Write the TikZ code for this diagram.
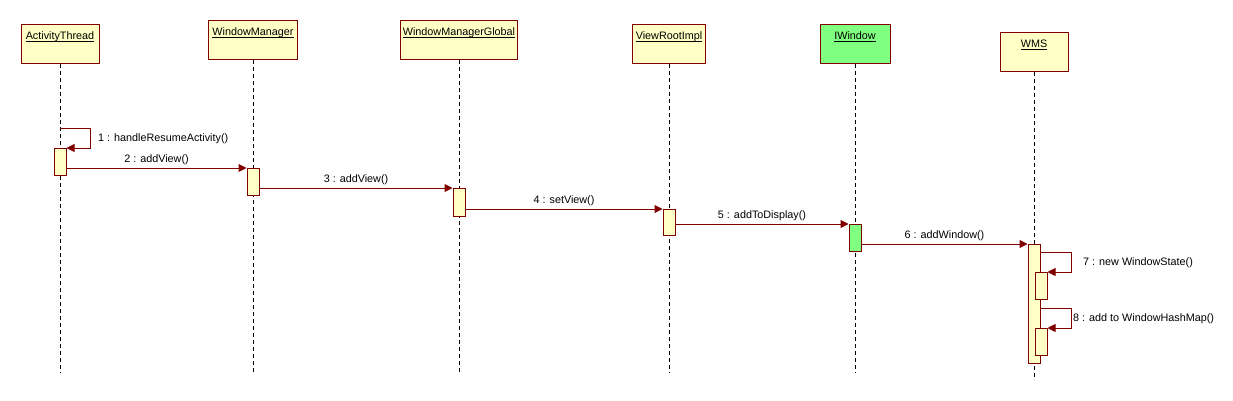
\documentclass[tikz,border=0pt]{standalone}
\usepackage{fontspec}
\setmainfont{Liberation Sans}
\usetikzlibrary{arrows.meta}
\definecolor{bord}{RGB}{128,0,0}
\definecolor{pale}{RGB}{255,255,198}
\definecolor{grn}{RGB}{128,255,128}
\newcommand\myul[1]{\setbox0\hbox{#1}\rlap{\rule[-2pt]{\wd0}{0.7pt}}\box0}
\begin{document}
\begin{tikzpicture}[x=1pt,y=-1pt,
  font=\fontsize{10.8}{13}\selectfont,
  obj/.style={draw=bord, fill=pale, line width=1pt, anchor=north,
    inner xsep=2pt, inner ysep=2pt, text height=13pt, text depth=22pt,
    minimum height=39pt},
  act/.style={draw=bord, fill=pale, line width=1pt, anchor=north,
    minimum width=12pt, inner sep=0pt},
  life/.style={dash pattern=on 4pt off 3pt, line width=1pt},
  msg/.style={draw=bord, line width=1pt, -{Triangle[length=8pt,width=8pt]}},
  lbl/.style={inner sep=0pt}]
\useasboundingbox (0,0) rectangle (1233,401);

% participants
\node[obj, minimum width=78pt]  (AT)  at (60,24)   {\myul{ActivityThread}};
\node[obj, minimum width=89pt]  (WM)  at (253,20)  {\myul{WindowManager}};
\node[obj, minimum width=116pt] (WMG) at (459,20)  {\myul{WindowManagerGlobal}};
\node[obj, minimum width=73pt]  (VRI) at (669,24)  {\myul{ViewRootImpl}};
\node[obj, minimum width=70pt, fill=grn] (IW) at (855,24) {\myul{IWindow}};
\node[obj, minimum width=68pt]  (WMS) at (1034,32) {\myul{WMS}};

% lifeline ends
\coordinate (ATe)  at (60,373);
\coordinate (WMe)  at (253,373);
\coordinate (WMGe) at (459,373);
\coordinate (VRIe) at (669,373);
\coordinate (IWe)  at (855,373);
\coordinate (WMSe) at (1034,380);

\draw[life] (AT.south)  -- (ATe);
\draw[life] (WM.south)  -- (WMe);
\draw[life] (WMG.south) -- (WMGe);
\draw[life] (VRI.south) -- (VRIe);
\draw[life] (IW.south)  -- (IWe);
\draw[life] (WMS.south) -- (WMSe);

% activations
\node[act, minimum height=27pt]  (A1) at (60,148)  {};
\node[act, minimum height=27pt]  (A2) at (253,168) {};
\node[act, minimum height=28pt]  (A3) at (459,188) {};
\node[act, minimum height=26pt]  (A4) at (669,209) {};
\node[act, minimum height=27pt, fill=grn] (A5) at (855,224) {};
\node[act, minimum height=119pt] (A6) at (1034,244) {};
\node[act, minimum height=27pt]  (A7) at (1041,272) {};
\node[act, minimum height=27pt]  (A8) at (1041,328) {};

% messages
\coordinate (s1) at (60,128);
\draw[msg] (s1) -- ++(30,0) |- (A1.north east);
\node[lbl, anchor=west] (L1) at (98,139) {1 : handleResumeActivity()};

\draw[msg] (A1.east |- A2.north west) -- (A2.north west)
  node[lbl, midway, yshift=8.5pt] (L2) {2 : addView()};
\draw[msg] (A2.east |- A3.north west) -- (A3.north west)
  node[lbl, midway, yshift=8.5pt] (L3) {3 : addView()};
\draw[msg] (A3.east |- A4.north west) -- (A4.north west)
  node[lbl, midway, yshift=8.5pt] (L4) {4 : setView()};
\draw[msg] (A4.east |- A5.north west) -- (A5.north west)
  node[lbl, midway, yshift=8.5pt] (L5) {5 : addToDisplay()};
\draw[msg] (A5.east |- A6.north west) -- (A6.north west)
  node[lbl, midway, yshift=8.5pt] (L6) {6 : addWindow()};

\coordinate (s7) at (A6.east |- 0,252);
\draw[msg] (s7) -- ++(31,0) |- (A7.north east);
\node[lbl, anchor=west] (L7) at (1083,263) {7 : new WindowState()};

\coordinate (s8) at (A6.east |- 0,308);
\draw[msg] (s8) -- ++(31,0) |- (A8.north east);
\node[lbl, anchor=west] (L8) at (1073,319) {8 : add to WindowHashMap()};
\end{tikzpicture}
\end{document}
